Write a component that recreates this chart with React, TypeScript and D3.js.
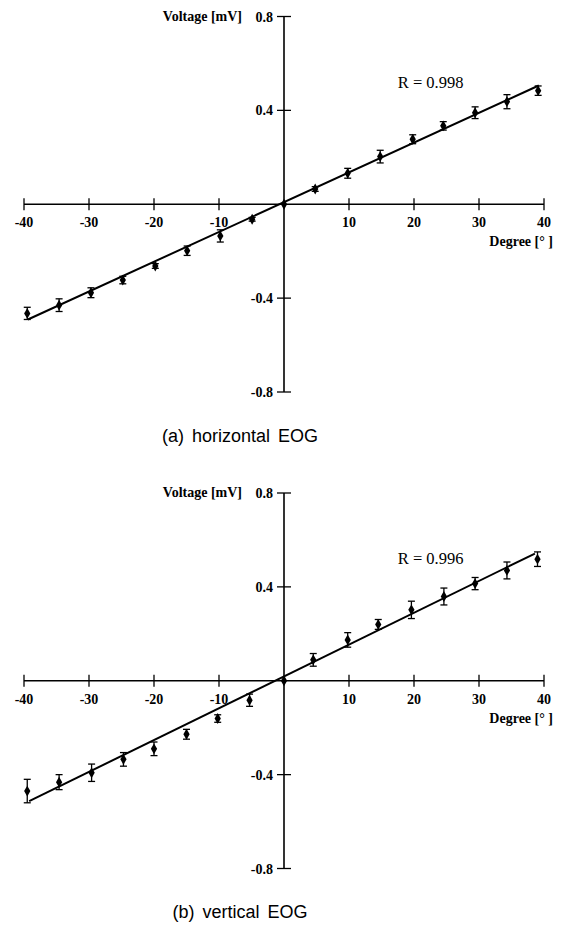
import React from "react";
import * as d3 from "d3";

const xTicks = [-40, -30, -20, -10, 10, 20, 30, 40];
const yTicks = [0.8, 0.4, -0.4, -0.8];

const hDeg = [-39.5, -34.6, -29.7, -24.8, -19.8, -14.9, -9.8, -4.9, 0, 4.8, 9.8, 14.8, 19.8, 24.5, 29.4, 34.3, 39.1];
const hVolt = [-0.465, -0.43, -0.377, -0.323, -0.263, -0.198, -0.135, -0.064, 0, 0.065, 0.132, 0.203, 0.277, 0.334, 0.39, 0.437, 0.484];
const hErr = [0.026, 0.027, 0.021, 0.016, 0.01, 0.02, 0.026, 0.008, 0, 0.01, 0.021, 0.027, 0.019, 0.018, 0.025, 0.03, 0.02];
const hFit = [[-39.4, -0.491], [39.2, 0.506]];

const vDeg = [-39.5, -34.6, -29.6, -24.7, -20, -15, -10.2, -5.3, 0, 4.5, 9.8, 14.5, 19.6, 24.6, 29.4, 34.3, 39];
const vVolt = [-0.47, -0.432, -0.392, -0.335, -0.29, -0.228, -0.161, -0.083, 0, 0.089, 0.174, 0.24, 0.302, 0.359, 0.414, 0.47, 0.518];
const vErr = [0.05, 0.032, 0.037, 0.029, 0.029, 0.021, 0.016, 0.026, 0, 0.027, 0.031, 0.021, 0.037, 0.036, 0.026, 0.036, 0.031];
const vFit = [[-39.2, -0.513], [38.6, 0.542]];

const serif = "'Liberation Serif', 'Times New Roman', serif";
const sans = "'Liberation Sans', Arial, sans-serif";

function Panel({ top, deg, volt, err, fit, rText, caption }) {
  const x = d3.scaleLinear().domain([-40, 40]).range([24, 544]);
  const y = d3.scaleLinear().domain([-0.8, 0.8]).range([top + 375.5, top]);
  const x0 = x(0);
  const y0 = y(0);
  const line = d3.line().x((d) => x(d[0])).y((d) => y(d[1]));
  const sym = d3.symbol().type(d3.symbolDiamond).size(34)();
  return (
    <g>
      <line x1={x(-40)} x2={x(40)} y1={y0} y2={y0} stroke="#000" strokeWidth={1.4} />
      {xTicks.map((t) => (
        <g key={"xt" + t}>
          <line x1={x(t)} x2={x(t)} y1={y0 - 6} y2={y0 + 6} stroke="#000" strokeWidth={1.3} />
          <text x={x(t)} y={y0 + 23} textAnchor="middle" fontFamily={serif} fontWeight="bold" fontSize={14}>
            {t}
          </text>
        </g>
      ))}
      <line x1={x0} x2={x0} y1={y(0.8)} y2={y(-0.8)} stroke="#000" strokeWidth={1.6} />
      {yTicks.map((t) => (
        <g key={"yt" + t}>
          <line x1={x0 - 7} x2={x0 + 7} y1={y(t)} y2={y(t)} stroke="#000" strokeWidth={1.3} />
          <text x={x0 - 11} y={y(t) + 5} textAnchor="end" fontFamily={serif} fontWeight="bold" fontSize={14}>
            {t.toFixed(1)}
          </text>
        </g>
      ))}
      <text x={x0 - 42} y={y(0.8) + 4} textAnchor="end" fontFamily={serif} fontWeight="bold" fontSize={14}>
        Voltage [mV]
      </text>
      <text x={553} y={y0 + 42} textAnchor="end" fontFamily={serif} fontWeight="bold" fontSize={14}>
        {"Degree [° ]"}
      </text>
      <text x={x(17.5)} y={y(0.8) + 71} fontFamily={serif} fontSize={16.5}>
        {rText}
      </text>
      <path d={line(fit)} fill="none" stroke="#000" strokeWidth={2} />
      {deg.map((d, i) => {
        const cx = x(d);
        const cy = y(volt[i]);
        const e = err[i];
        return (
          <g key={"p" + i}>
            {e > 0 && (
              <g stroke="#000" strokeWidth={1.3}>
                <line x1={cx} x2={cx} y1={y(volt[i] + e)} y2={y(volt[i] - e)} />
                <line x1={cx - 3.5} x2={cx + 3.5} y1={y(volt[i] + e)} y2={y(volt[i] + e)} />
                <line x1={cx - 3.5} x2={cx + 3.5} y1={y(volt[i] - e)} y2={y(volt[i] - e)} />
              </g>
            )}
            <path d={sym} transform={`translate(${cx},${cy})`} fill="#000" />
          </g>
        );
      })}
      <text x={240} y={top + 425} textAnchor="middle" fontFamily={sans} fontSize={18} wordSpacing={3}>
        {caption}
      </text>
    </g>
  );
}

export default function App() {
  return (
    <svg
      width={565}
      height={937}
      viewBox="0 0 565 937"
      style={{ position: "absolute", left: 0, top: 0, background: "#fff" }}
    >
      <rect width={565} height={937} fill="#fff" />
      <Panel top={16.5} deg={hDeg} volt={hVolt} err={hErr} fit={hFit} rText="R = 0.998" caption="(a) horizontal EOG" />
      <Panel top={493} deg={vDeg} volt={vVolt} err={vErr} fit={vFit} rText="R = 0.996" caption="(b) vertical EOG" />
    </svg>
  );
}
